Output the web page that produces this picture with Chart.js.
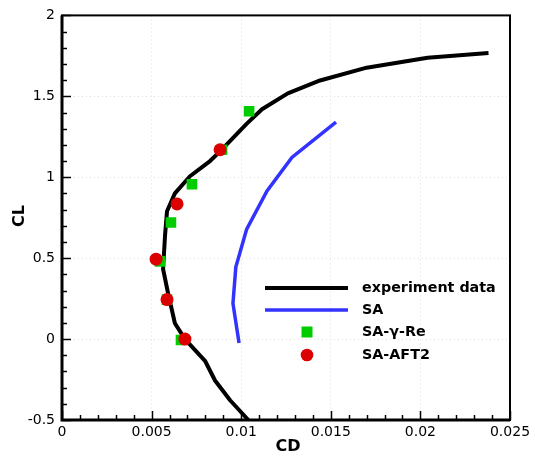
<!DOCTYPE html>
<html>
<head>
<meta charset="utf-8">
<script src="https://cdn.jsdelivr.net/npm/chart.js@4/dist/chart.umd.min.js"></script>
<style>
html,body{margin:0;padding:0;background:#fff;}
#wrap{width:535px;height:461px;}
</style>
</head>
<body>
<div id="wrap"><canvas id="c" width="535" height="461"></canvas></div>
<script>
// experiment data
const expCD = [0.0238,0.0204,0.0170,0.0144,0.0126,0.01116,0.0103,0.00882,0.00826,0.00714,0.0063,0.00586,0.00575,0.00564,0.0059,0.0063,0.00686,0.00798,0.00854,0.00938,0.0104];
const expCL = [1.768,1.738,1.677,1.598,1.518,1.42,1.33,1.16,1.10,1.006,0.90,0.79,0.64,0.433,0.293,0.098,0.0,-0.134,-0.256,-0.378,-0.5];
// SA
const saCD = [0.00988,0.00954,0.0097,0.0103,0.01144,0.01283,0.01529];
const saCL = [-0.024,0.22,0.445,0.677,0.915,1.122,1.341];
// SA-gamma-Re
const greCD = [0.01044,0.00893,0.00725,0.00608,0.00547,0.00586,0.00664];
const greCL = [1.408,1.17,0.957,0.72,0.48,0.244,-0.006];
// SA-AFT2
const aftCD = [0.00882,0.00642,0.00525,0.00586,0.00686];
const aftCL = [1.17,0.835,0.494,0.244,0.0];

const xTicks = [0,0.005,0.01,0.015,0.02,0.025];
const yTicks = [-0.5,0,0.5,1,1.5,2];
const seriesNames = ['experiment data','SA','SA-\u03B3-Re','SA-AFT2'];

const pts = (xs, ys) => xs.map((x,i)=>({x:x,y:ys[i]}));
const fmt = v => String(Math.round(v*10000)/10000);

const framePlugin = {
  id:'frame',
  afterDraw(chart){
    const ctx = chart.ctx, a = chart.chartArea;
    const xs = chart.scales.x, ys = chart.scales.y;
    ctx.save();
    ctx.strokeStyle = '#000';
    ctx.lineWidth = 1.5;
    for(let i=0;i<=25;i++){
      const v = i*0.001;
      const px = Math.round(xs.getPixelForValue(v))+0.5;
      const len = (i%5===0)?9:5;
      ctx.beginPath(); ctx.moveTo(px,a.bottom); ctx.lineTo(px,a.bottom-len); ctx.stroke();
    }
    for(let i=0;i<=25;i++){
      const v = -0.5 + i*0.1;
      const py = Math.round(ys.getPixelForValue(v))+0.5;
      const len = (i%5===0)?9:5;
      ctx.beginPath(); ctx.moveTo(a.left,py); ctx.lineTo(a.left+len,py); ctx.stroke();
    }
    ctx.lineWidth = 2;
    ctx.strokeRect(a.left, a.top, a.right-a.left, a.bottom-a.top);
    ctx.lineWidth = 3;
    ctx.beginPath(); ctx.moveTo(a.left, a.top); ctx.lineTo(a.left, a.bottom); ctx.lineTo(a.right, a.bottom); ctx.stroke();

    ctx.fillStyle = '#000';
    ctx.font = 'bold 16px "DejaVu Sans"';
    ctx.textAlign = 'center'; ctx.textBaseline = 'middle';
    ctx.fillText('CD', 288, 447);
    ctx.save();
    ctx.translate(20, 216); ctx.rotate(-Math.PI/2);
    ctx.fillText('CL', 0, 0);
    ctx.restore();

    const ds = chart.data.datasets;
    const rows = [288, 310, 332, 355];
    ctx.font = 'bold 14.3px "DejaVu Sans"';
    ctx.textAlign = 'left';
    ds.forEach((d,i)=>{
      const y = rows[i];
      if(d.showLine){
        ctx.strokeStyle = d.borderColor; ctx.lineWidth = d.borderWidth;
        ctx.beginPath(); ctx.moveTo(265,y); ctx.lineTo(348,y); ctx.stroke();
      } else if(d.pointStyle==='rect'){
        ctx.fillStyle = d.backgroundColor;
        ctx.fillRect(307-5.5, y-5.5, 11, 11);
      } else {
        ctx.fillStyle = d.backgroundColor;
        ctx.beginPath(); ctx.arc(307, y, 6.3, 0, Math.PI*2); ctx.fill();
      }
      ctx.fillStyle = '#000';
      ctx.fillText(d.label, 362, y);
    });
    ctx.restore();
  }
};

new Chart(document.getElementById('c'), {
  type:'scatter',
  data:{
    datasets:[
      {label:seriesNames[0], data:pts(expCD,expCL), showLine:true, borderColor:'#000', borderWidth:4, pointRadius:0, order:4, borderJoinStyle:'round'},
      {label:seriesNames[1], data:pts(saCD,saCL), showLine:true, borderColor:'#3333ff', borderWidth:3.5, pointRadius:0, order:3},
      {label:seriesNames[2], data:pts(greCD,greCL), showLine:false, pointStyle:'rect', pointRadius:7.5, backgroundColor:'#00cc00', borderWidth:0, order:2},
      {label:seriesNames[3], data:pts(aftCD,aftCL), showLine:false, pointStyle:'circle', pointRadius:6.5, backgroundColor:'#dd0000', borderWidth:0, order:1}
    ]
  },
  options:{
    responsive:false,
    animation:false,
    layout:{padding:{top:10,right:25,left:0,bottom:0}},
    plugins:{legend:{display:false}, tooltip:{enabled:false}},
    scales:{
      x:{
        type:'linear', min:0, max:0.025,
        afterFit(s){ s.height = 41; },
        afterBuildTicks(s){ s.ticks = xTicks.map(v=>({value:v})); },
        ticks:{color:'#000', font:{family:'DejaVu Sans', size:14}, padding:4, maxRotation:0, autoSkip:false, callback:v=>fmt(v)},
        grid:{color:'#e0e0e0', lineWidth:1, drawTicks:false},
        border:{display:false, dash:[1,3]}
      },
      y:{
        type:'linear', min:-0.5, max:2,
        afterFit(s){ s.width = 62; },
        afterBuildTicks(s){ s.ticks = yTicks.map(v=>({value:v})); },
        ticks:{color:'#000', font:{family:'DejaVu Sans', size:14}, padding:7, autoSkip:false, callback:v=>fmt(v)},
        grid:{color:'#e0e0e0', lineWidth:1, drawTicks:false},
        border:{display:false, dash:[1,3]}
      }
    }
  },
  plugins:[framePlugin]
});
</script>
</body>
</html>
